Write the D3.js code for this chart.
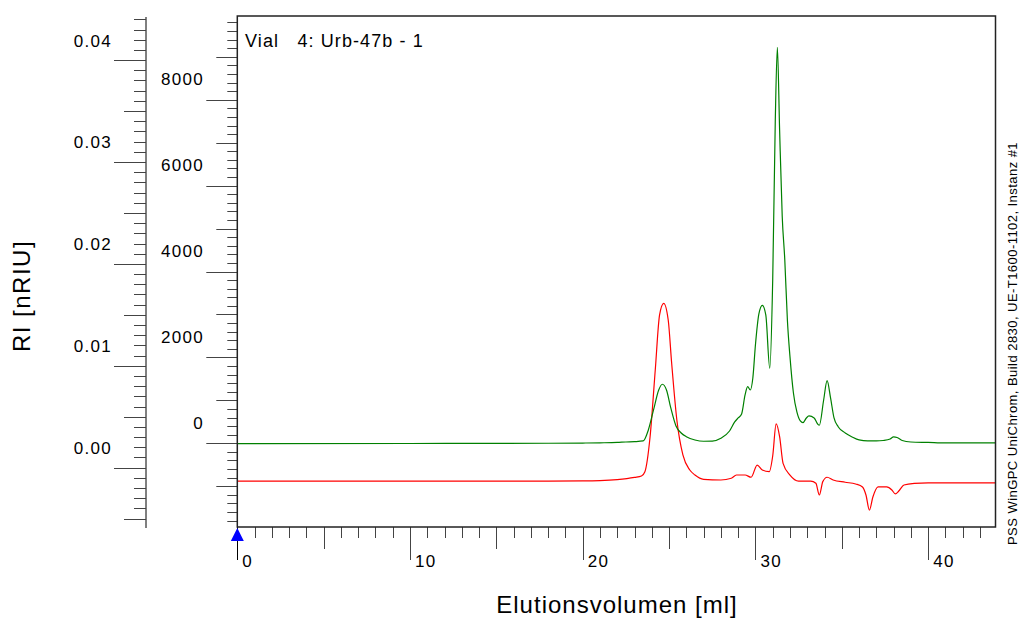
<!DOCTYPE html>
<html>
<head>
<meta charset="utf-8">
<script src="https://cdn.jsdelivr.net/npm/d3@7"></script>
<style>
  body { margin: 0; background: #fff; }
  text { font-family: "Liberation Sans", Arial, sans-serif; fill: #000; }
</style>
</head>
<body>
<div id="chart"></div>
<script>

//Data: elution volume [ml] and signal
var greenMl  = [0, 10, 18, 20, 21, 22, 22.5, 23, 23.5, 23.8, 24.1, 24.4, 24.61, 24.85, 25.1, 25.4, 25.7, 26, 26.5, 27, 27.5, 28, 28.5, 28.8, 29, 29.2, 29.4, 29.55, 29.7, 29.85, 30.0, 30.2, 30.4, 30.6, 30.83, 31.0, 31.15, 31.27, 31.4, 31.55, 31.7, 31.85, 32.0, 32.2, 32.4, 32.6, 32.75, 32.95, 33.1, 33.4, 33.6, 33.7, 33.95, 34.15, 34.35, 34.55, 34.8, 35.2, 35.6, 36, 36.5, 37, 37.4, 37.8, 38.0, 38.2, 38.5, 39, 40, 41, 42, 43.9];
var greenVal = [-10, -5, 0, 5, 10, 19, 30, 37, 54, 310, 776, 1241, 1374, 1241, 822, 403, 240, 154, 77, 47, 49, 116, 286, 496, 589, 682, 1125, 1318, 1241, 1521, 2289, 3011, 3209, 2988, 1747, 3803, 7529, 9222, 7296, 5293, 4269, 2872, 2017, 1171, 729, 519, 480, 589, 636, 589, 449, 419, 1008, 1458, 1055, 589, 380, 240, 147, 77, 54, 54, 65, 100, 147, 135, 65, 30, 19, 7, 7, 7];

var redMl  = [0, 10, 18, 20, 21, 22, 23, 23.4, 23.6, 23.9, 24.2, 24.45, 24.69, 24.95, 25.15, 25.45, 25.8, 26.2, 26.5, 27, 28, 28.6, 28.9, 29.4, 29.75, 30.1, 30.4, 30.8, 31.0, 31.2, 31.4, 31.6, 32.0, 32.5, 33.2, 33.5, 33.7, 33.9, 34.15, 34.5, 35.2, 35.8, 36.2, 36.4, 36.6, 36.8, 37.1, 37.6, 37.9, 38.1, 38.3, 38.6, 39.2, 40, 43.9];
var redVal = [-0.00131, -0.00131, -0.00131, -0.00130, -0.00127, -0.00117, -0.00095, -0.00081, -0.00039, 0.00304, 0.00959, 0.01499, 0.01613, 0.01449, 0.01025, 0.00468, 0.00125, -0.00023, -0.00072, -0.00114, -0.00121, -0.00104, -0.00072, -0.00072, -0.00094, 0.00026, -0.00023, -0.00039, 0.00115, 0.00429, 0.00304, 0.00043, -0.00072, -0.00131, -0.00131, -0.00153, -0.00268, -0.00137, -0.00094, -0.00121, -0.00143, -0.0016, -0.00189, -0.00268, -0.00417, -0.00288, -0.00189, -0.00189, -0.00219, -0.00258, -0.00229, -0.0017, -0.00155, -0.0015, -0.0015];

//Tick labels
var outerLabels = [0.00, 0.01, 0.02, 0.03, 0.04];
var innerLabels = [0, 2000, 4000, 6000, 8000];
var xLabels = [0, 10, 20, 30, 40];

var title = "Vial   4: Urb-47b - 1";
var xTitle = "Elutionsvolumen [ml]";
var yTitle = "RI [nRIU]";
var footer = "PSS WinGPC UniChrom, Build 2830, UE-T1600-1102, Instanz #1";

var makeChart = function() {

    //Width and Height
    var w = 1020;
    var h = 619;
    var frame = {left: 237.3, right: 995.5, top: 16, bottom: 527};
    var outerX = 146;
    var tickColor = "#444";

    //Scales
    var x = d3.scaleLinear().domain([0, 43.9]).range([frame.left, frame.right]);
    var yInner = d3.scaleLinear().domain([-1950, 9950]).range([frame.bottom, frame.top]);
    var yOuter = d3.scaleLinear().domain([-0.00592, 0.04423]).range([528, 17]);

    var chart = d3.select("#chart")
        .append("svg")
        .attr("width", w)
        .attr("height", h);

    chart.append("rect")
        .attr("width", w)
        .attr("height", h)
        .attr("fill", "white");

    //Outer axis (0.00 - 0.04)
    var outer = chart.append("g").attr("class", "outer");
    outer.append("line")
        .attr("x1", outerX).attr("x2", outerX)
        .attr("y1", 17).attr("y2", 528)
        .attr("stroke", "#000");

    var outerTicks = d3.range(-5, 45).map(d => d / 1000);
    outer.selectAll("line.tick")
        .data(outerTicks)
        .enter()
        .append("line")
        .attr("class", "tick")
        .attr("x1", function(d) {
            var k = Math.round(d * 1000);
            if (k % 10 == 0) return outerX - 32;
            if (k % 5 == 0) return outerX - 22;
            return outerX - 12;
        })
        .attr("x2", outerX)
        .attr("y1", d => Math.round(yOuter(d)) + 0.5)
        .attr("y2", d => Math.round(yOuter(d)) + 0.5)
        .attr("stroke", tickColor);

    outer.selectAll("text")
        .data(outerLabels)
        .enter()
        .append("text")
        .attr("x", 112)
        .attr("y", d => yOuter(d) - 13.5)
        .attr("text-anchor", "end")
        .style("font-size", "17px")
        .style("letter-spacing", "1.3px")
        .text(d => d3.format(".2f")(d));

    //Inner axis (0 - 8000)
    var inner = chart.append("g").attr("class", "inner");
    var innerTicks = d3.range(-1800, 10000, 200);
    inner.selectAll("line.tick")
        .data(innerTicks)
        .enter()
        .append("line")
        .attr("class", "tick")
        .attr("x1", function(d) {
            if (d % 2000 == 0) return frame.left - 31;
            if (d % 1000 == 0) return frame.left - 21;
            return frame.left - 10;
        })
        .attr("x2", frame.left)
        .attr("y1", d => Math.round(yInner(d)) + 0.5)
        .attr("y2", d => Math.round(yInner(d)) + 0.5)
        .attr("stroke", tickColor);

    inner.selectAll("text")
        .data(innerLabels)
        .enter()
        .append("text")
        .attr("x", 204)
        .attr("y", d => yInner(d) - 14.5)
        .attr("text-anchor", "end")
        .style("font-size", "17px")
        .style("letter-spacing", "1.3px")
        .text(d => d);

    //X axis ticks
    var xAxis = chart.append("g").attr("class", "xaxis");
    xAxis.selectAll("line")
        .data(d3.range(0, 44))
        .enter()
        .append("line")
        .attr("x1", d => Math.round(x(d)) + 0.5)
        .attr("x2", d => Math.round(x(d)) + 0.5)
        .attr("y1", frame.bottom)
        .attr("y2", function(d) {
            if (d % 10 == 0) return frame.bottom + 33;
            if (d % 5 == 0) return frame.bottom + 22;
            return frame.bottom + 11;
        })
        .attr("stroke", d => d == 0 ? "#000" : tickColor);

    xAxis.selectAll("text")
        .data(xLabels)
        .enter()
        .append("text")
        .attr("x", d => x(d) + 5)
        .attr("y", 567)
        .style("font-size", "17px")
        .style("letter-spacing", "1.3px")
        .text(d => d);

    //Blue start marker
    chart.append("path")
        .attr("d", "M" + x(0) + "," + (frame.bottom + 1) + " l6.5,13 l-13,0 z")
        .attr("fill", "#0000ff");

    //Curves
    var greenLine = d3.line()
        .x((d, i) => x(greenMl[i]))
        .y(d => yInner(d))
        .curve(d3.curveMonotoneX);

    var redLine = d3.line()
        .x((d, i) => x(redMl[i]))
        .y(d => yOuter(d))
        .curve(d3.curveMonotoneX);

    chart.append("path")
        .attr("d", redLine(redVal))
        .attr("fill", "none")
        .attr("stroke", "#ff0000")
        .attr("stroke-width", 1.2);

    chart.append("path")
        .attr("d", greenLine(greenVal))
        .attr("fill", "none")
        .attr("stroke", "#008000")
        .attr("stroke-width", 1.2);

    //Frame
    chart.append("rect")
        .attr("x", frame.left)
        .attr("y", frame.top)
        .attr("width", frame.right - frame.left)
        .attr("height", frame.bottom - frame.top)
        .attr("fill", "none")
        .attr("stroke", "#222")
        .attr("stroke-width", 1.5);

    //Texts
    chart.append("text")
        .attr("x", 245)
        .attr("y", 47)
        .attr("xml:space", "preserve")
        .style("white-space", "pre")
        .style("font-size", "18px")
        .style("letter-spacing", "1.1px")
        .text(title);

    chart.append("text")
        .attr("x", 617)
        .attr("y", 613)
        .attr("text-anchor", "middle")
        .style("font-size", "24px")
        .style("letter-spacing", "1px")
        .text(xTitle);

    chart.append("text")
        .attr("transform", "translate(30,296) rotate(-90)")
        .attr("text-anchor", "middle")
        .style("font-size", "24px")
        .style("letter-spacing", "1.5px")
        .text(yTitle);

    chart.append("text")
        .attr("transform", "translate(1016.5,545) rotate(-90)")
        .style("font-size", "13px")
        .style("letter-spacing", "0.45px")
        .text(footer);
}

makeChart();
</script>
</body>
</html>
